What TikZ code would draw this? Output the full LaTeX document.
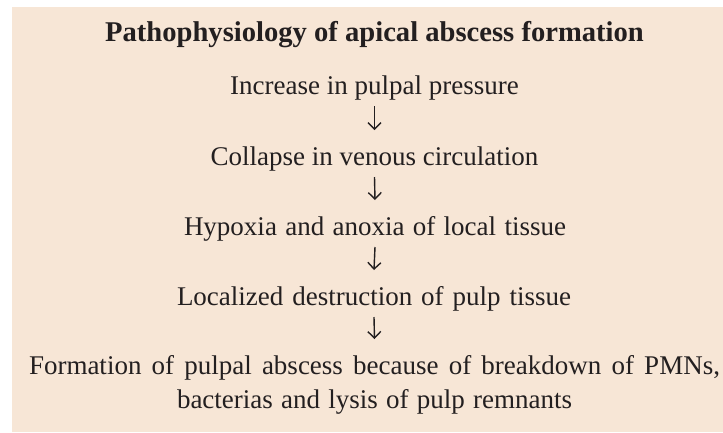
\documentclass[tikz,border=0pt]{standalone}
\usepackage{fontspec}
\setmainfont{Liberation Serif}
\usetikzlibrary{arrows.meta}
\definecolor{bgbeige}{RGB}{247,230,214}
\definecolor{inkc}{RGB}{35,31,32}
\tikzset{
  txt/.style={anchor=base, inner sep=0pt, text=inkc, font=\fontsize{27}{32}\selectfont},
  ttl/.style={anchor=base, inner sep=0pt, text=inkc, font=\fontsize{28.6}{34}\selectfont\bfseries},
  arr/.style={draw=inkc, line width=1.4pt, -{Straight Barb[length=6.5pt,width=13pt,line width=1.4pt]}}
}
\begin{document}
\begin{tikzpicture}[x=1pt,y=1pt]
\useasboundingbox (0,0) rectangle (723,-432);
\fill[white] (0,0) rectangle (723,-432);
\fill[bgbeige] (12,-7) rectangle (723,-432);
\node[ttl] (title) at (374.5,-41) {Pathophysiology of apical abscess formation};
\node[txt] (l1) at (374.5,-94) {Increase in pulpal pressure};
\node[txt] (l2) at (374.5,-165) {Collapse in venous circulation};
\node[txt] (l3) at (375,-235) {\makebox[382pt][s]{Hypoxia and anoxia of local tissue}};
\node[txt] (l4) at (374,-305) {\makebox[394pt][s]{Localized destruction of pulp tissue}};
\node[txt] (l5) at (374.5,-374) {\makebox[691pt][s]{Formation of pulpal abscess because of breakdown of PMNs,}};
\node[txt] (l5b) at (374.5,-408) {\makebox[395pt][s]{bacterias and lysis of pulp remnants}};
\draw[arr] ([yshift=-12pt]l1.base) -- ([yshift=35pt]l2.base);
\draw[arr] ([yshift=-12pt]l2.base) -- ([yshift=35pt]l3.base);
\draw[arr] ([yshift=-12pt]l3.base) -- ([yshift=35pt]l4.base);
\draw[arr] ([yshift=-12pt]l4.base) -- ([yshift=35pt]l5.base);
\end{tikzpicture}
\end{document}
